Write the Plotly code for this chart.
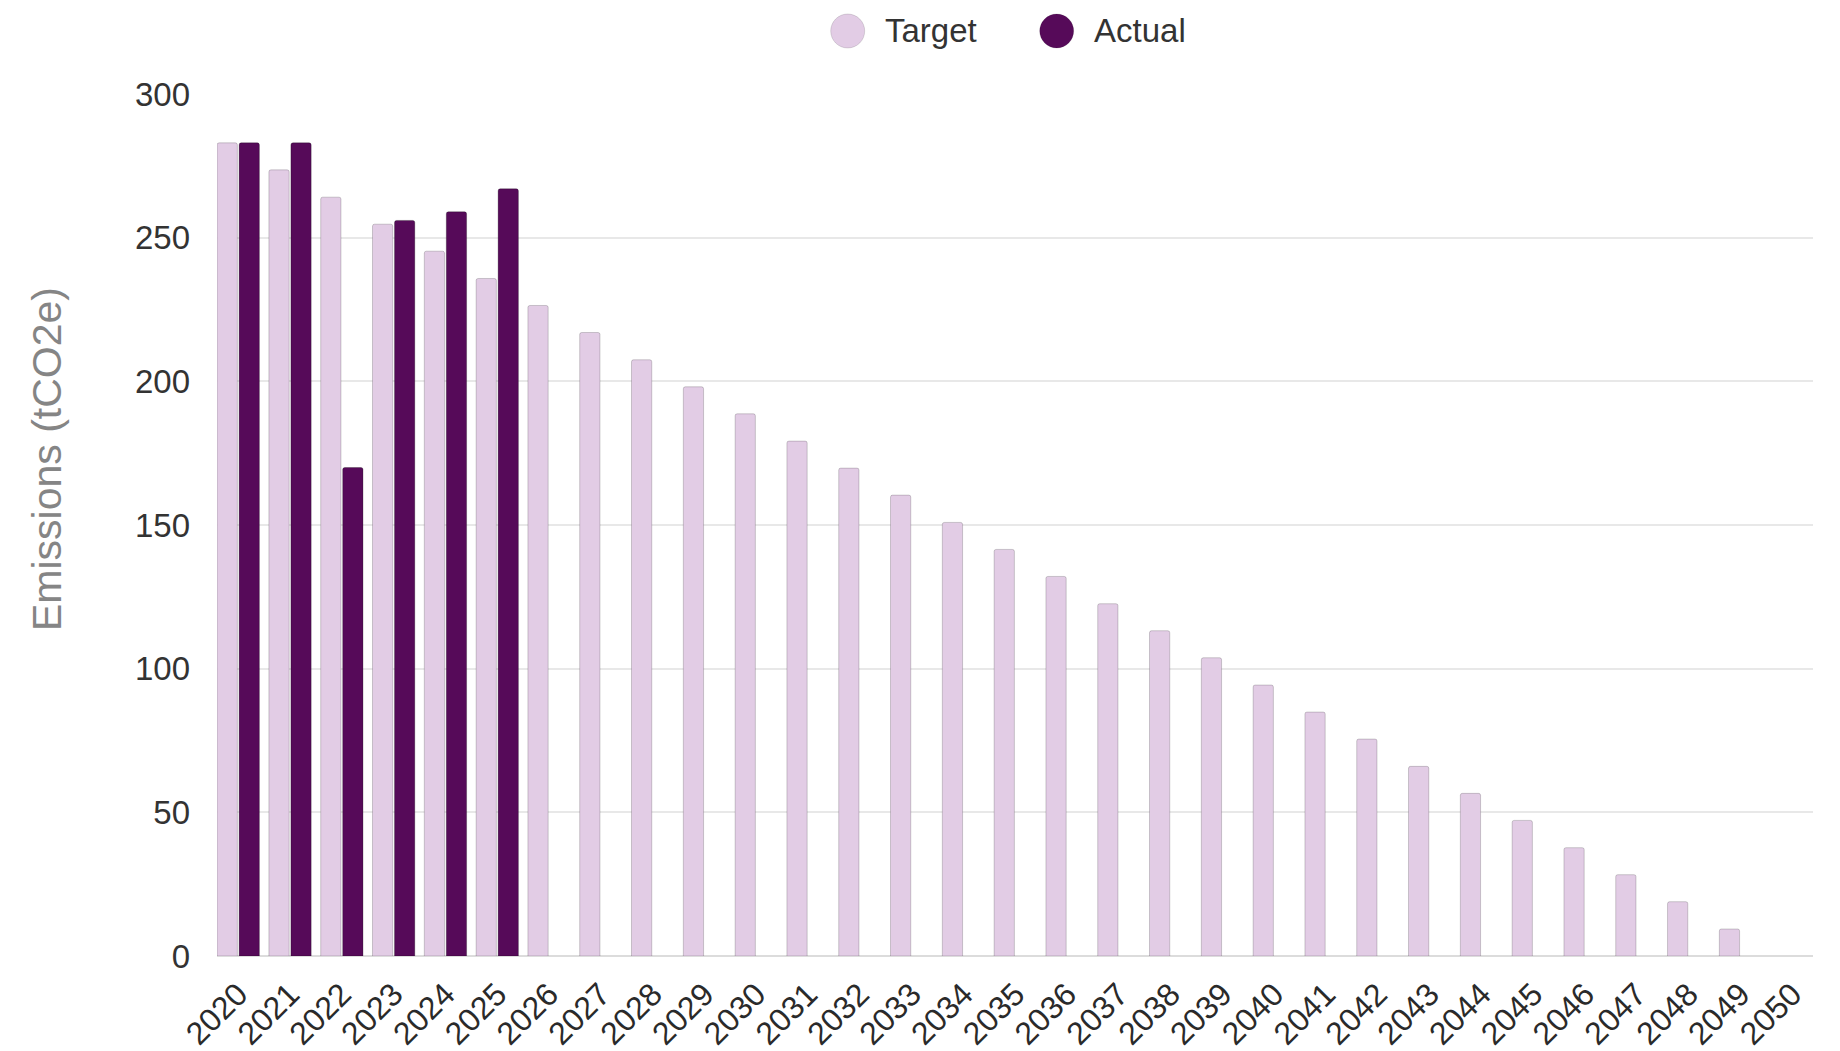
import plotly.graph_objects as go

years = [str(y) for y in range(2020, 2051)]
target = [283, 273.6, 264.1, 254.7, 245.3, 235.8, 226.4, 217, 207.5, 198.1,
          188.7, 179.2, 169.8, 160.4, 150.9, 141.5, 132.1, 122.6, 113.2, 103.8,
          94.3, 84.9, 75.5, 66, 56.6, 47.2, 37.7, 28.3, 18.9, 9.4, 0]
actual_years = ["2020", "2021", "2022", "2023", "2024", "2025"]
actual = [283, 283, 170, 256, 259, 267]
y_ticks = [0, 50, 100, 150, 200, 250, 300]

LIGHT = "#E2CCE5"
DARK = "#560A59"
FONT = "Liberation Sans, Arial, sans-serif"

fig = go.Figure()
fig.add_trace(go.Bar(
    x=years, y=target, name="Target", showlegend=False,
    marker=dict(color=LIGHT,
                line=dict(color="rgba(0,0,0,0.18)",
                          width=[0 if v == 0 else 1 for v in target]),
                cornerradius=2),
))
fig.add_trace(go.Bar(
    x=actual_years, y=actual, name="Actual", showlegend=False,
    marker=dict(color=DARK, line=dict(color="rgba(0,0,0,0.25)", width=1), cornerradius=2),
))

OFF = 8  # page body margin
W, H = 1840 - OFF, 1051 - OFF
L, R, T, B = 217 - OFF, 27, 94 - OFF, 95
pw, ph = W - L - R, H - T - B

def px_x(x):
    return (x - OFF - L) / pw

def px_y(y):
    return (H - B - (y - OFF)) / ph

shapes = []
annotations = []
for label, col, cx, tx in [("Target", LIGHT, 847.7, 883), ("Actual", DARK, 1056.7, 1092)]:
    shapes.append(dict(
        type="circle", xref="paper", yref="paper",
        xsizemode="pixel", ysizemode="pixel",
        xanchor=px_x(cx), yanchor=px_y(31),
        x0=-17, x1=17, y0=-17, y1=17,
        fillcolor=col, line=dict(color="rgba(0,0,0,0.12)", width=1),
    ))
    annotations.append(dict(
        text=label, xref="paper", yref="paper", x=px_x(tx), y=px_y(30),
        xanchor="left", yanchor="middle", showarrow=False,
        font=dict(family=FONT, size=33, color="#333333"),
    ))

annotations.append(dict(
    text="Emissions (tCO2e)", xref="paper", yref="paper",
    x=px_x(47), y=px_y(459), xanchor="center", yanchor="middle",
    textangle=-90, showarrow=False,
    font=dict(family=FONT, size=41, color="#858585"),
))

fig.update_layout(
    width=W, height=H,
    margin=dict(l=L, r=R, t=T, b=B, autoexpand=False),
    paper_bgcolor="white", plot_bgcolor="white",
    barmode="group", bargap=0.15, bargroupgap=0.08,
    showlegend=False,
    shapes=shapes, annotations=annotations,
    font=dict(family=FONT, size=32, color="#333333"),
)
fig.update_xaxes(
    type="category", range=[-0.41, 30.4], tickangle=-45,
    showgrid=False, showline=False, ticks="",
    tickfont=dict(family=FONT, size=32, color="#2a2a2a"),
    ticklabelstandoff=12, automargin=False,
)
fig.update_yaxes(
    range=[0, 300], tickvals=y_ticks,
    showgrid=True, gridcolor="#E8E8E8", gridwidth=2,
    zeroline=True, zerolinecolor="#DCDCDC", zerolinewidth=2,
    showline=False, ticks="",
    tickfont=dict(family=FONT, size=33, color="#333333"),
    ticklabelstandoff=26, automargin=False,
)

fig.write_html("out.html")
